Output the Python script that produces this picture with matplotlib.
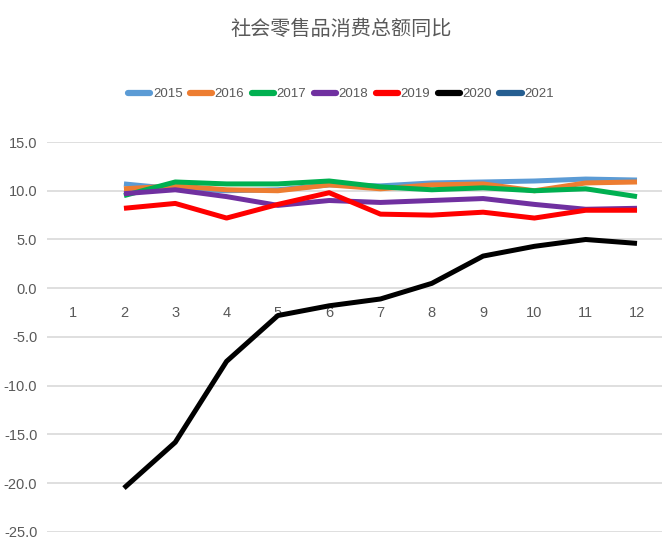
import numpy as np
import matplotlib
matplotlib.use("Agg")
import matplotlib.pyplot as plt
from matplotlib import font_manager

# fonts: narrow latin for numbers if available, CJK for title
names = {f.name for f in font_manager.fontManager.ttflist}
num_font = ['Liberation Sans Narrow', 'DejaVu Sans'] if 'Liberation Sans Narrow' in names else ['Liberation Sans', 'DejaVu Sans']
plt.rcParams['font.family'] = num_font

months = [1, 2, 3, 4, 5, 6, 7, 8, 9, 10, 11, 12]
years = ['2015', '2016', '2017', '2018', '2019', '2020', '2021']

# monthly yoy growth (%), month 1 has no data (Jan-Feb merged into 2)
y2015 = [np.nan, 10.7, 10.2, 10.0, 10.1, 10.6, 10.5, 10.8, 10.9, 11.0, 11.2, 11.1]
y2016 = [np.nan, 10.2, 10.5, 10.1, 10.0, 10.6, 10.2, 10.6, 10.7, 10.0, 10.8, 10.9]
y2017 = [np.nan, 9.5, 10.9, 10.7, 10.7, 11.0, 10.4, 10.1, 10.3, 10.0, 10.2, 9.4]
y2018 = [np.nan, 9.7, 10.1, 9.4, 8.5, 9.0, 8.8, 9.0, 9.2, 8.6, 8.1, 8.2]
y2019 = [np.nan, 8.2, 8.7, 7.2, 8.6, 9.8, 7.6, 7.5, 7.8, 7.2, 8.0, 8.0]
y2020 = [np.nan, -20.5, -15.8, -7.5, -2.8, -1.8, -1.1, 0.5, 3.3, 4.3, 5.0, 4.6]
y2021 = [np.nan] * 12

series = [y2015, y2016, y2017, y2018, y2019, y2020, y2021]
colors = ['#5B9BD5', '#ED7D31', '#00B050', '#7030A0', '#FF0000', '#000000', '#255E91']

fig = plt.figure(figsize=(6.62, 5.42), dpi=100)
ax = fig.add_axes([0.071, 0.0185, 0.93, 0.7195])

for name, vals, c in zip(years, series, colors):
    ax.plot(months, vals, color=c, lw=3.6, label=name, solid_capstyle='butt')

ax.set_xlim(0.5, 12.5)
ax.set_ylim(-25, 15)
ax.set_yticks(np.arange(-25, 16, 5))
ax.set_yticklabels([f'{v:.1f}' for v in np.arange(-25, 16, 5)])
ax.set_xticks(months)
ax.set_xticklabels([str(m) for m in months])

ax.grid(axis='y', color='#D9D9D9', lw=1.2)
ax.set_axisbelow(True)
for s in ['top', 'right', 'left']:
    ax.spines[s].set_visible(False)
ax.spines['bottom'].set_position(('data', 0))
ax.spines['bottom'].set_visible(False)
ax.tick_params(axis='x', length=0, pad=13, labelsize=10.5, labelcolor='#595959')
ax.tick_params(axis='y', length=0, pad=7, labelsize=10.5, labelcolor='#595959')

fig.text(0.515, 0.945, '社会零售品消费总额同比', ha='center', va='center',
         fontsize=14.5, color='#595959', family=['Noto Sans CJK SC', 'DejaVu Sans'])

leg = fig.legend(loc='center', bbox_to_anchor=(0.515, 0.826), ncol=7, frameon=False,
                 fontsize=9.5, handlelength=1.7, handletextpad=0.2, columnspacing=0.55)
for t in leg.get_texts():
    t.set_color('#595959')
for h in leg.get_lines():
    h.set_linewidth(4.5)
    h.set_solid_capstyle('round')

fig.savefig('out.png', dpi=100)
